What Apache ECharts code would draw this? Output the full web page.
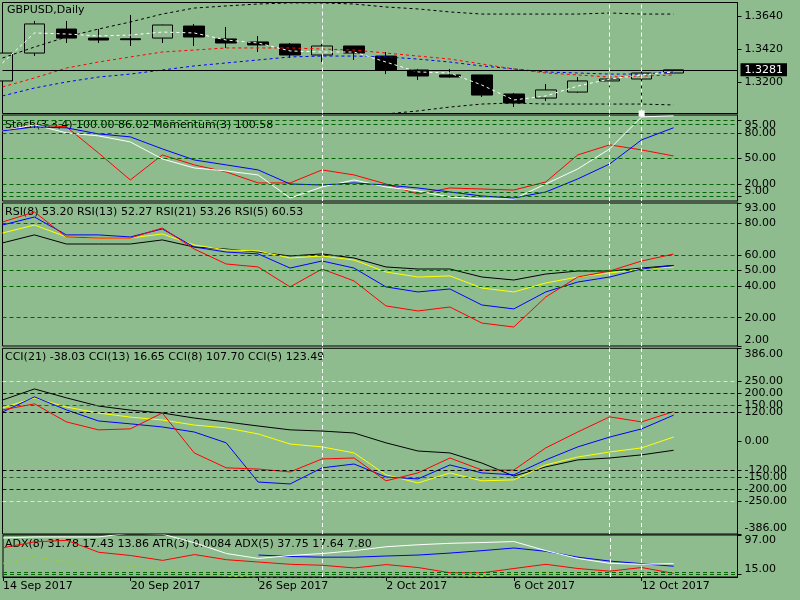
<!DOCTYPE html>
<html>
<head>
<meta charset="utf-8">
<script src="https://cdn.jsdelivr.net/npm/echarts@6/dist/echarts.min.js"></script>
<style>
html, body { margin: 0; padding: 0; background: #8fbc8f; }
#main { width: 800px; height: 600px; }
</style>
</head>
<body>
<div id="main"></div>
<script>
// bars (the two last dates are empty room on the right)
var dates = ['14 Sep 2017','15 Sep 2017','18 Sep 2017','19 Sep 2017','20 Sep 2017','21 Sep 2017','22 Sep 2017',
	'25 Sep 2017','26 Sep 2017','27 Sep 2017','28 Sep 2017','29 Sep 2017','2 Oct 2017','3 Oct 2017','4 Oct 2017',
	'5 Oct 2017','6 Oct 2017','9 Oct 2017','10 Oct 2017','11 Oct 2017','12 Oct 2017','13 Oct 2017','16 Oct 2017','17 Oct 2017'];

// price
var opens  = [1.3207,1.3393,1.3553,1.3493,1.3488,1.3493,1.3573,1.3487,1.3467,1.3453,1.3380,1.3440,1.3373,1.3280,1.3247,1.3247,1.3120,1.3093,1.3133,1.3207,1.3220,1.3260];
var closes = [1.3393,1.3587,1.3493,1.3480,1.3482,1.3580,1.3500,1.3460,1.3447,1.3380,1.3440,1.3393,1.3280,1.3240,1.3233,1.3113,1.3060,1.3147,1.3207,1.3220,1.3260,1.3281];
var lows   = [1.3205,1.3373,1.3460,1.3460,1.3440,1.3460,1.3440,1.3427,1.3400,1.3360,1.3333,1.3347,1.3253,1.3213,1.3230,1.3100,1.3033,1.3073,1.3127,1.3167,1.3060,1.3260];
var highs  = [1.3395,1.3607,1.3607,1.3553,1.3647,1.3582,1.3587,1.3567,1.3507,1.3460,1.3453,1.3440,1.3400,1.3287,1.3287,1.3247,1.3127,1.3187,1.3233,1.3220,1.3280,1.3281];
var maWhite = [1.3327,1.3527,1.3520,1.3507,1.3513,1.3533,1.3527,1.3480,1.3460,1.3407,1.3400,1.3400,1.3333,1.3267,1.3260,1.3180,1.3080,1.3107,1.3173,1.3220,1.3247,1.3267];
var maRed   = [1.3167,1.3227,1.3293,1.3333,1.3367,1.3400,1.3413,1.3427,1.3427,1.3427,1.3420,1.3413,1.3393,1.3373,1.3353,1.3320,1.3287,1.3260,1.3247,1.3233,1.3240,1.3247];
var maBlue  = [1.3107,1.3160,1.3200,1.3233,1.3253,1.3280,1.3307,1.3327,1.3347,1.3367,1.3373,1.3373,1.3367,1.3353,1.3333,1.3307,1.3287,1.3267,1.3260,1.3253,1.3253,1.3267];
var bandUp  = [1.3360,1.3433,1.3500,1.3553,1.3600,1.3653,1.3693,1.3707,1.3720,1.3727,1.3727,1.3720,1.3700,1.3687,1.3667,1.3653,1.3653,1.3653,1.3653,1.3660,1.3653,1.3653];
var bandLow = [null,null,null,null,null,null,null,null,null,null,null,null,1.2987,1.3007,1.3033,1.3053,1.3060,1.3053,1.3053,1.3053,1.3053,1.3047];
var priceTicks = [1.3200, 1.3420, 1.3640];

// stochastic / momentum
var stochMain   = [82.4,89.4,80.0,76.5,69.4,49.4,38.8,35.3,30.6,3.5,16.5,24.7,16.5,11.8,4.7,2.4,2.4,20.0,37.6,61.2,98.8,100.0];
var stochSignal = [82.4,87.0,85.9,78.8,75.3,61.2,48.2,42.4,36.5,20.0,18.8,21.2,18.8,15.3,10.6,5.9,3.5,10.6,25.9,43.5,71.8,86.0];
var momentum    = [82.4,89.4,87.1,56.5,24.7,54.1,42.4,34.1,21.2,21.2,36.5,30.6,20.0,8.2,15.3,14.1,12.9,22.4,54.1,65.9,60.0,52.9];
var stochTicks  = [5, 10, 20, 50, 80, 90, 95];
var stochLevels = [5, 10, 20, 50, 80, 90, 95];

// RSI
var rsi5  = [80.9,87.3,71.4,70.7,70.7,77.1,63.7,54.2,52.3,39.6,51.0,43.4,27.5,24.3,26.8,16.6,14.1,33.2,45.9,49.7,56.1,60.5];
var rsi8  = [79.0,84.1,72.7,72.7,71.4,76.5,65.0,61.8,60.6,51.6,56.1,51.6,39.6,36.4,38.3,28.1,25.6,36.4,42.7,45.9,51.0,53.2];
var rsi13 = [73.9,79.0,71.4,70.7,70.7,73.3,66.3,63.1,62.5,58.0,59.3,56.7,49.1,45.9,46.6,38.9,36.4,42.1,45.9,48.5,51.0,52.3];
var rsi21 = [67.6,72.7,66.9,66.9,66.9,69.5,65.0,63.7,61.8,59.3,60.6,58.0,52.3,51.0,51.0,45.9,44.0,47.8,49.7,49.7,51.6,53.3];
var rsiTicks  = [2, 20, 40, 50, 60, 80, 93];
var rsiLevels = [20, 40, 50, 60, 80];

// CCI
var cci21 = [171,217,180,146,129,117,96,80,63,47,42,34,-7,-41,-49,-91,-145,-107,-78,-70,-57,-38];
var cci13 = [138,180,142,117,100,88,67,55,30,-12,-24,-49,-140,-174,-132,-165,-161,-99,-66,-45,-28,17];
var cci8  = [121,184,130,84,72,59,38,-7,-170,-178,-111,-95,-149,-157,-99,-132,-140,-78,-24,17,51,108];
var cci5  = [130,155,80,47,51,117,-49,-111,-116,-128,-74,-70,-165,-132,-70,-120,-120,-28,38,101,80,123];
var cciTicks = [-386, -250, -200, -150, -120, 0, 120, 150, 200, 250, 386];
var cciLevels = [250, 200, 150, 120, -120, -150, -200, -250];
var cciLevelColors = ['#ffff00', '#0000ff', '#ff0000', '#000000', '#000000', '#ff0000', '#0000ff', '#ffff00'];

// ADX / ATR
var adxWhite = [90.9,93.0,93.0,93.0,101.0,98.7,80.8,58.6,48.4,54.5,58.6,64.6,72.7,76.8,79.8,81.4,83.4,64.6,48.4,38.3,36.3,37.7];
var adxBlue  = [null,null,null,null,null,null,null,null,55.5,52.5,51.1,51.1,53.5,55.5,59.6,64.6,70.1,63.2,51.1,43.0,37.7,32.3];
var adxRed   = [70.7,82.8,85.9,61.2,54.5,44.4,56.5,45.8,41.0,36.3,34.3,28.8,35.7,29.6,18.7,18.7,27.6,36.3,27.6,22.1,29.6,17.5];
var atr      = [38.3,52.5,41.0,26.2,32.3,25.6,17.5,12.0,9.0,8.0,8.0,8.0,8.0,8.0,9.0,11.0,15.0,20.0,20.0,16.0,16.0,18.0];
var adxTicks  = [15, 20, 97];
var adxLevels = [15, 20];

var markedBars = [10, 19, 20];

var FONT = 'DejaVu Sans';
var LEVEL_GREEN = '#006400';

var myChart = echarts.init(document.getElementById('main'));

var gridTops = [2.5, 115, 203, 348.3, 535];
var gridHeights = [111, 86, 143, 185.7, 42];
var grids = gridTops.map(function (t, i) {
	return {
		left: 2.5, right: 62.5, top: t, height: gridHeights[i],
		show: true, borderColor: '#000', borderWidth: 1, backgroundColor: 'transparent'
	};
});

function showDate(i) {
	return i % 4 === 0 && i <= 20;
}

var xAxes = grids.map(function (g, i) {
	var bottom = i === grids.length - 1;
	return {
		type: 'category', gridIndex: i, data: dates, boundaryGap: false,
		show: bottom,
		axisLine: { show: true, lineStyle: { color: '#000' } },
		axisTick: { show: bottom, interval: function (idx) { return showDate(idx); }, length: 4, lineStyle: { color: '#000' } },
		axisLabel: {
			show: bottom, interval: function (idx) { return showDate(idx); },
			align: 'left', margin: 4, color: '#000', fontFamily: FONT, fontSize: 11
		},
		splitLine: { show: false }
	};
});

function yAx(gi, min, max, ticks, digits) {
	return {
		type: 'value', gridIndex: gi, position: 'right', min: min, max: max,
		axisLine: { show: true, lineStyle: { color: '#000' } },
		axisTick: { show: true, customValues: ticks, length: 4, lineStyle: { color: '#000' } },
		axisLabel: {
			customValues: ticks, color: '#000', fontFamily: FONT, fontSize: 11, margin: 7,
			hideOverlap: false, showMinLabel: true, showMaxLabel: true,
			verticalAlignMaxLabel: 'top', verticalAlignMinLabel: 'bottom',
			formatter: function (v) { return v.toFixed(digits); }
		},
		splitLine: { show: false }
	};
}

var yAxes = [
	yAx(0, 1.2990, 1.3730, priceTicks, 4),
	yAx(1, 0, 101, stochTicks, 2),
	yAx(2, 2, 93, rsiTicks, 2),
	yAx(3, -386, 386, cciTicks, 2),
	yAx(4, 10, 97, adxTicks, 2)
];
// main panel labels sit centred on their ticks
yAxes[0].axisLabel.verticalAlignMaxLabel = 'middle';
yAxes[0].axisLabel.verticalAlignMinLabel = 'middle';

function vlines(withSquares) {
	return markedBars.map(function (b) {
		var item = { xAxis: dates[b], lineStyle: { color: '#fff', type: [4, 3], width: 1 } };
		if (withSquares && b === 20) {
			item.symbol = ['rect', 'rect'];
			item.symbolSize = 6;
		}
		return item;
	});
}

function levelLines(levels, colors) {
	return levels.map(function (v, i) {
		return { yAxis: v, lineStyle: { color: colors ? colors[i] : LEVEL_GREEN, type: [4, 3], width: 1 } };
	});
}

function line(name, gi, data, color, dashed, markLine) {
	var s = {
		name: name, type: 'line', xAxisIndex: gi, yAxisIndex: gi, data: data,
		showSymbol: false, symbol: 'none', connectNulls: false,
		lineStyle: { color: color, width: 1, type: dashed ? [3, 3] : 'solid' },
		z: 3, animation: false, silent: true
	};
	if (markLine) {
		s.markLine = {
			silent: true, symbol: 'none', animation: false, precision: 4,
			label: { show: false },
			data: markLine
		};
	}
	return s;
}

var candleData = opens.map(function (o, i) {
	return [o, closes[i], lows[i], highs[i]];
});

var lastClose = closes[closes.length - 1];

var titleStyle = { color: '#000', fontFamily: FONT, fontSize: 11, fontWeight: 'normal' };
var titles = [
	{ text: 'GBPUSD,Daily', left: 7, top: 5 },
	{ text: 'Stoch(3,3,4) 100.00 86.02 Momentum(3) 100.58', left: 5, top: 120 },
	{ text: 'RSI(8) 53.20 RSI(13) 52.27 RSI(21) 53.26 RSI(5) 60.53', left: 5, top: 207 },
	{ text: 'CCI(21) -38.03 CCI(13) 16.65 CCI(8) 107.70 CCI(5) 123.49', left: 5, top: 352 },
	{ text: 'ADX(8) 31.78 17.43 13.86 ATR(3) 0.0084 ADX(5) 37.75 17.64 7.80', left: 5, top: 539 }
].map(function (t) {
	t.padding = 0;
	t.z = 0;
	t.textStyle = titleStyle;
	return t;
});

var whiteMa = line('ma white', 0, maWhite, '#ffffff', true, vlines(true));
whiteMa.clip = false;

var option = {
	backgroundColor: '#8fbc8f',
	animation: false,
	title: titles,
	grid: grids,
	xAxis: xAxes,
	yAxis: yAxes,
	series: [{
		name: 'GBPUSD', type: 'candlestick', xAxisIndex: 0, yAxisIndex: 0,
		data: candleData, barWidth: 21, silent: true, z: 2,
		itemStyle: {
			color: '#8fbc8f', color0: '#000',
			borderColor: '#000', borderColor0: '#000', borderWidth: 1
		},
		markLine: {
			silent: true, symbol: 'none', animation: false, precision: 4,
			data: [{
				yAxis: lastClose,
				lineStyle: { color: '#000', type: 'solid', width: 1 },
				label: {
					show: true, position: 'end', distance: 3,
					formatter: function (p) { return Number(p.value).toFixed(4); },
					backgroundColor: '#000', color: '#fff', padding: [1, 4, 1, 4],
					fontFamily: FONT, fontSize: 11
				}
			}]
		}
	},
	line('upper band', 0, bandUp, '#000', true),
	line('lower band', 0, bandLow, '#000', true),
	line('ma blue', 0, maBlue, '#0000ff', true),
	line('ma red', 0, maRed, '#ff0000', true),
	whiteMa,

	line('Momentum(3)', 1, momentum, '#ff0000', false, levelLines(stochLevels).concat(vlines(false))),
	line('Stoch main', 1, stochMain, '#ffffff', false),
	line('Stoch signal', 1, stochSignal, '#0000ff', false),

	line('RSI(21)', 2, rsi21, '#000000', false, levelLines(rsiLevels).concat(vlines(false))),
	line('RSI(13)', 2, rsi13, '#ffff00', false),
	line('RSI(8)', 2, rsi8, '#0000ff', false),
	line('RSI(5)', 2, rsi5, '#ff0000', false),

	line('CCI(21)', 3, cci21, '#000000', false, levelLines(cciLevels, cciLevelColors).concat(vlines(false))),
	line('CCI(13)', 3, cci13, '#ffff00', false),
	line('CCI(8)', 3, cci8, '#0000ff', false),
	line('CCI(5)', 3, cci5, '#ff0000', false),

	line('ATR(3)', 4, atr, '#9acd32', true, levelLines(adxLevels).concat(vlines(false))),
	line('ADX red', 4, adxRed, '#ff0000', false),
	line('ADX(8)', 4, adxBlue, '#0000ff', false),
	line('ADX(5)', 4, adxWhite, '#ffffff', false)
	]
};

myChart.setOption(option);
</script>
</body>
</html>
